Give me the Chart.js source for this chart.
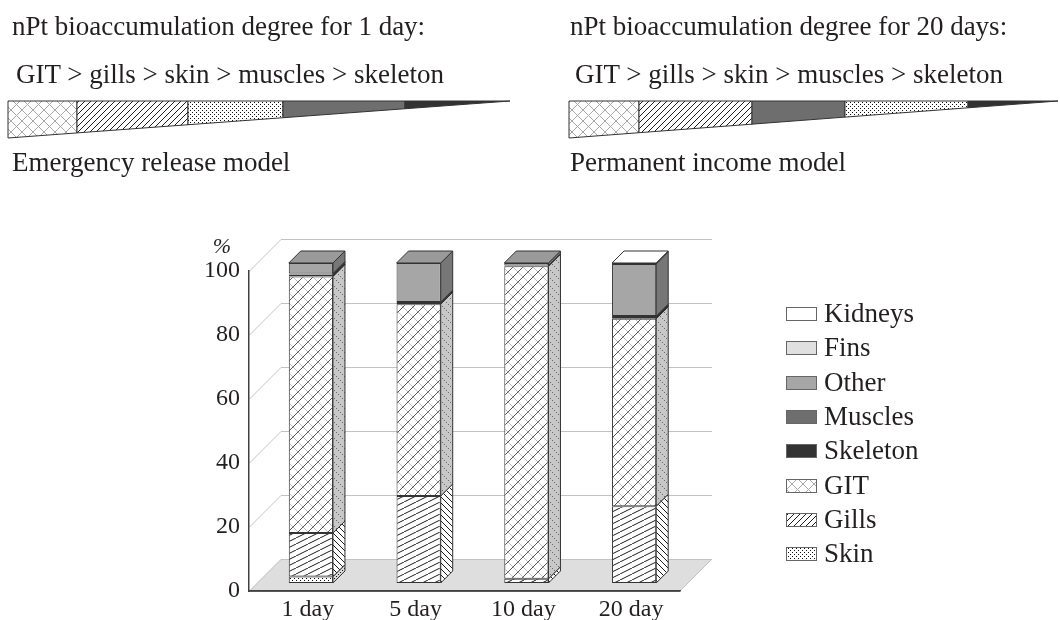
<!DOCTYPE html>
<html><head><meta charset="utf-8">
<script src="https://cdn.jsdelivr.net/npm/chart.js@4.4.0/dist/chart.umd.min.js"></script>
<style>
html,body{margin:0;padding:0;background:#fff;}
#wrap{position:relative;width:1060px;height:620px;overflow:hidden;}
#c{position:absolute;left:0;top:0;}
.t{position:absolute;font-family:"Liberation Serif","Times New Roman",serif;font-size:27px;color:#231f20;white-space:nowrap;line-height:1;}
</style></head><body>
<div id="wrap">
<canvas id="c" width="1060" height="620"></canvas>
<div class="t" style="left:12px;top:13px">nPt bioaccumulation degree for 1 day:</div>
<div class="t" style="left:16px;top:61px">GIT &gt; gills &gt; skin &gt; muscles &gt; skeleton</div>
<div class="t" style="left:12px;top:149px">Emergency release model</div>
<div class="t" style="left:570px;top:13px">nPt bioaccumulation degree for 20 days:</div>
<div class="t" style="left:575px;top:61px">GIT &gt; gills &gt; skin &gt; muscles &gt; skeleton</div>
<div class="t" style="left:570px;top:149px">Permanent income model</div>
</div>
<script>
// ---- data ----
const categories = ['1 day', '5 day', '10 day', '20 day'];
const seriesNames = ['Skin', 'Gills', 'GIT', 'Skeleton', 'Muscles', 'Other', 'Fins', 'Kidneys'];
const skinValues     = [2.0, 0, 0, 0];
const gillsValues    = [13.6, 27.2, 1.3, 24.0];
const gitValues      = [80.2, 59.9, 97.7, 58.6];
const skeletonValues = [0.6, 0.4, 0.2, 0.5];
const musclesValues  = [0.3, 0.3, 0, 0.3];
const otherValues    = [3.3, 12.2, 0.8, 16.3];
const finsValues     = [0, 0, 0, 0];
const kidneysValues  = [0, 0, 0, 0.3];
const yTickValues = [0, 20, 40, 60, 80, 100];
const legendOrder = ['Kidneys', 'Fins', 'Other', 'Muscles', 'Skeleton', 'GIT', 'Gills', 'Skin'];
const seriesValues = [skinValues, gillsValues, gitValues, skeletonValues, musclesValues, otherValues, finsValues, kidneysValues];

// ---- patterns ----
function tile(w, h, bg, draw) {
  const c = document.createElement('canvas'); c.width = w; c.height = h;
  const g = c.getContext('2d');
  if (bg) { g.fillStyle = bg; g.fillRect(0, 0, w, h); }
  if (draw) draw(g, w, h);
  return g.createPattern(c, 'repeat');
}
function diag(g, w, h, color, dir, lw) {
  g.strokeStyle = color; g.lineWidth = lw || 1; g.beginPath();
  for (let k = -1; k <= 1; k++) {
    if (dir > 0) { g.moveTo(k * w, h); g.lineTo(k * w + w, 0); }
    else { g.moveTo(k * w, 0); g.lineTo(k * w + w, h); }
  }
  g.stroke();
}
const gitF = tile(10, 10, '#fff', g => { diag(g, 10, 10, '#bdbdbd', -1); diag(g, 10, 10, '#555', 1); });
const gitS = tile(8, 8, '#c8c8c8', g => { g.fillStyle = '#6a6a6a'; [0, 2, 4, 6].forEach(t => g.fillRect(t, t, 1, 1)); });
const gitL = tile(11, 11, '#fff', g => { diag(g, 11, 11, '#a8a8a8', -1); diag(g, 11, 11, '#a8a8a8', 1); });
const gillsF = tile(12, 6, '#fff', g => diag(g, 12, 6, '#1e1e1e', 1));
const gillsS = tile(6, 6, '#fff', g => diag(g, 6, 6, '#1e1e1e', -1));
const gillsL = tile(6, 6, '#fff', g => diag(g, 6, 6, '#1e1e1e', 1));
const skinF = tile(4, 4, '#fff', g => { g.fillStyle = '#111'; g.fillRect(0, 0, 1, 1); g.fillRect(2, 2, 1, 1); });
const skinS = tile(4, 4, '#d8d8d8', g => { g.fillStyle = '#111'; g.fillRect(0, 0, 1, 1); g.fillRect(2, 2, 1, 1); });

const styles = {
  Skin:     { front: skinF,  side: skinS,  top: '#eee', legend: skinF },
  Gills:    { front: gillsF, side: gillsS, top: '#fff', legend: gillsL },
  GIT:      { front: gitF,   side: gitS,   top: '#fff', legend: gitL },
  Skeleton: { front: '#333', side: '#1f1f1f', top: '#2a2a2a', legend: '#333' },
  Muscles:  { front: '#6e6e6e', side: '#4e4e4e', top: '#626262', legend: '#6e6e6e' },
  Other:    { front: '#a6a6a6', side: '#777', top: '#9a9a9a', legend: '#a6a6a6' },
  Fins:     { front: '#e0e0e0', side: '#bdbdbd', top: '#d0d0d0', legend: '#e0e0e0' },
  Kidneys:  { front: '#fff', side: '#d0d0d0', top: '#fff', legend: '#fff' }
};

const DEPTH = 32;   // wall/floor depth
const SHIFT = 8;    // bar position inside depth
const BDEP = 12;    // bar depth
const FONT = '"Liberation Serif","Times New Roman",serif';

function poly(ctx, pts, fill, stroke) {
  ctx.beginPath(); ctx.moveTo(pts[0][0], pts[0][1]);
  for (let i = 1; i < pts.length; i++) ctx.lineTo(pts[i][0], pts[i][1]);
  ctx.closePath();
  if (fill) { ctx.fillStyle = fill; ctx.fill(); }
  if (stroke) { ctx.strokeStyle = stroke; ctx.lineWidth = 1; ctx.stroke(); }
}

function wedge(ctx, x0, tip, segs) {
  const top = 101, h0 = 37;
  const bot = x => top + h0 * (tip - x) / (tip - x0);
  segs.forEach(s => {
    const x2 = Math.min(s.x2, tip);
    poly(ctx, [[s.x1, top], [x2, top], [x2, bot(x2)], [s.x1, bot(s.x1)]], s.fill, '#333');
  });
}

const threeD = {
  id: 'threeD',
  beforeDraw(chart) {
    const ctx = chart.ctx, a = chart.chartArea, ys = chart.scales.y;
    const L = a.left, R = a.right, B = a.bottom;
    ctx.save();
    poly(ctx, [[L, B], [R, B], [R + DEPTH, B - DEPTH], [L + DEPTH, B - DEPTH]], '#dedede', null);
    ctx.strokeStyle = '#c2c2c2'; ctx.lineWidth = 1;
    yTickValues.forEach(v => {
      const y = Math.round(ys.getPixelForValue(v)) + 0.5;
      ctx.beginPath(); ctx.moveTo(L, y); ctx.lineTo(L + DEPTH, y - DEPTH); ctx.lineTo(R + DEPTH, y - DEPTH); ctx.stroke();
    });
    ctx.beginPath(); ctx.moveTo(R, B); ctx.lineTo(R + DEPTH, B - DEPTH); ctx.stroke();
    ctx.restore();
  },
  beforeDatasetsDraw(chart) { chart.ctx.save(); chart.ctx.translate(SHIFT, -SHIFT); },
  afterDatasetsDraw(chart) {
    const ctx = chart.ctx, n = chart.data.datasets.length;
    const topIdx = categories.map((_, j) => { let t = -1; for (let i = 0; i < n; i++) { if (chart.data.datasets[i].data[j]) t = i; } return t; });
    for (let i = 0; i < n; i++) {
      const st = styles[seriesNames[i]];
      chart.getDatasetMeta(i).data.forEach((el, j) => {
        if (!chart.data.datasets[i].data[j]) return;
        const l = el.x - el.width / 2, r = el.x + el.width / 2;
        const t = Math.min(el.y, el.base), b = Math.max(el.y, el.base);
        poly(ctx, [[r, t], [r + BDEP, t - BDEP], [r + BDEP, b - BDEP], [r, b]], st.side, '#333');
        if (topIdx[j] === i) poly(ctx, [[l, t], [r, t], [r + BDEP, t - BDEP], [l + BDEP, t - BDEP]], st.top, '#333');
      });
    }
    ctx.restore();
  },
  afterDraw(chart) {
    const ctx = chart.ctx;
    ctx.save();
    const a = chart.chartArea;
    ctx.strokeStyle = '#404040'; ctx.lineWidth = 1.5;
    ctx.beginPath(); ctx.moveTo(a.left, a.bottom); ctx.lineTo(a.right, a.bottom); ctx.stroke();
    // % sign
    ctx.fillStyle = '#231f20'; ctx.font = 'italic 22px ' + FONT; ctx.textAlign = 'center'; ctx.textBaseline = 'alphabetic';
    ctx.fillText('%', 222, 253);
    // legend
    ctx.textAlign = 'left'; ctx.font = '27px ' + FONT;
    legendOrder.forEach((name, k) => {
      const cy = Math.round(314 + k * 34.3);
      ctx.fillStyle = styles[name].legend; ctx.fillRect(786, cy - 7, 31, 14);
      ctx.strokeStyle = '#666'; ctx.lineWidth = 1; ctx.strokeRect(786.5, cy - 6.5, 30, 13);
      ctx.fillStyle = '#231f20'; ctx.fillText(name, 824, cy + 8);
    });
    // wedges
    wedge(ctx, 8, 510, [
      { x1: 8, x2: 77, fill: gitL }, { x1: 77, x2: 188, fill: gillsL }, { x1: 188, x2: 283, fill: skinF },
      { x1: 283, x2: 405, fill: '#6e6e6e' }, { x1: 405, x2: 510, fill: '#333' }]);
    wedge(ctx, 569, 1058, [
      { x1: 569, x2: 639, fill: gitL }, { x1: 639, x2: 752, fill: gillsL }, { x1: 752, x2: 845, fill: '#6e6e6e' },
      { x1: 845, x2: 968, fill: skinF }, { x1: 968, x2: 1058, fill: '#333' }]);
    ctx.restore();
  }
};

Chart.defaults.font.family = FONT;
Chart.defaults.color = '#231f20';

new Chart(document.getElementById('c'), {
  type: 'bar',
  data: {
    labels: categories,
    datasets: seriesNames.map((name, i) => ({
      label: name,
      data: seriesValues[i].map(v => v || null),
      backgroundColor: styles[name].front,
      borderColor: '#333',
      borderWidth: 1,
      borderSkipped: false,
      categoryPercentage: 1,
      barPercentage: 0.41,
      clip: false
    }))
  },
  options: {
    responsive: false,
    animation: false,
    devicePixelRatio: 1,
    layout: { padding: { top: 271, right: 380, left: 0, bottom: 0 } },
    plugins: { legend: { display: false }, tooltip: { enabled: false } },
    scales: {
      x: {
        stacked: true,
        grid: { display: false },
        border: { display: true, color: '#404040', width: 1.5 },
        ticks: { font: { size: 24 }, padding: -4, labelOffset: 5 },
        afterFit: s => { s.height = 29; }
      },
      y: {
        stacked: true, min: 0, max: 100,
        grid: { display: false },
        border: { display: true, color: '#404040', width: 1.5 },
        ticks: { stepSize: 20, font: { size: 24 }, padding: 1 },
        afterFit: s => { s.width = 249; }
      }
    }
  },
  plugins: [threeD]
});
</script>
</body></html>
